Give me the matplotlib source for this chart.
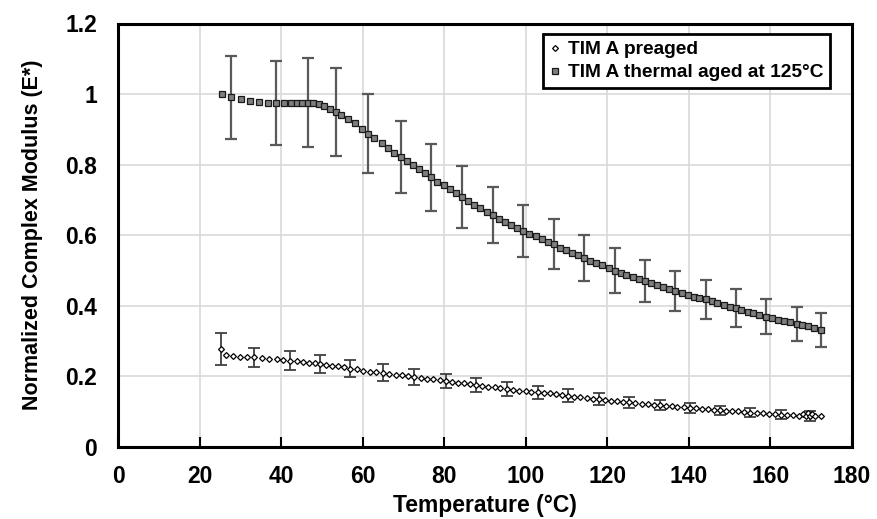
import matplotlib
matplotlib.use("Agg")
import matplotlib.pyplot as plt
from matplotlib.lines import Line2D

# ---------------- data ----------------
T_aged = [25.6, 27.7, 30.1, 32.4, 34.7, 36.9, 38.7, 40.6, 42.4, 43.8,
          45.2, 46.7, 47.9, 49.3, 50.5, 52.0, 53.4, 54.8, 56.5, 58.1,
          59.8, 61.4, 62.9, 64.7, 66.2, 67.8, 69.3, 70.8, 72.3, 73.8,
          75.3, 76.8, 78.3, 79.9, 81.3, 82.9, 84.4, 85.8, 87.4, 88.8,
          90.4, 91.9, 93.4, 94.9, 96.4, 97.8, 99.4, 100.9, 102.4, 103.9,
          105.4, 106.9, 108.4, 109.9, 111.3, 112.9, 114.3, 115.8, 117.3, 118.8,
          120.3, 121.9, 123.3, 124.7, 126.3, 127.8, 129.2, 130.7, 132.2, 133.7,
          135.2, 136.7, 138.2, 139.7, 141.2, 142.6, 144.1, 145.6, 147.0, 148.5,
          150.0, 151.5, 152.9, 154.4, 155.8, 157.3, 159.0, 160.4, 161.9, 163.4,
          164.8, 166.4, 167.8, 169.3, 170.7, 172.3]
E_aged = [1.000, 0.991, 0.986, 0.981, 0.978, 0.975, 0.975, 0.975, 0.975, 0.976,
          0.976, 0.976, 0.976, 0.972, 0.967, 0.959, 0.950, 0.941, 0.929, 0.917,
          0.902, 0.887, 0.875, 0.861, 0.846, 0.834, 0.822, 0.810, 0.798, 0.787,
          0.776, 0.764, 0.752, 0.742, 0.730, 0.719, 0.708, 0.697, 0.686, 0.676,
          0.667, 0.657, 0.646, 0.638, 0.629, 0.621, 0.612, 0.604, 0.597, 0.588,
          0.582, 0.574, 0.565, 0.558, 0.551, 0.543, 0.536, 0.528, 0.522, 0.515,
          0.507, 0.500, 0.493, 0.487, 0.482, 0.476, 0.470, 0.465, 0.458, 0.453,
          0.447, 0.442, 0.436, 0.432, 0.426, 0.421, 0.418, 0.413, 0.407, 0.402,
          0.397, 0.393, 0.388, 0.383, 0.379, 0.374, 0.369, 0.365, 0.361, 0.357,
          0.353, 0.349, 0.346, 0.342, 0.336, 0.332]
aged_err_idx = [1, 6, 11, 16, 21, 26, 31, 36, 41, 46, 51, 56, 61, 66, 71, 76, 81, 86, 91, 95]
aged_err = [0.118, 0.120, 0.127, 0.125, 0.112, 0.101, 0.095, 0.087, 0.080, 0.075,
            0.071, 0.066, 0.064, 0.059, 0.057, 0.055, 0.054, 0.050, 0.048, 0.048]

T_pre = [25.2, 26.6, 28.3, 29.9, 31.6, 33.4, 35.3, 37.1, 38.9, 40.5,
         42.2, 43.8, 45.3, 46.8, 48.2, 49.6, 51.0, 52.5, 53.9, 55.5,
         57.0, 58.5, 60.2, 61.8, 63.3, 64.9, 66.5, 68.1, 69.6, 71.2,
         72.7, 74.2, 75.8, 77.3, 78.9, 80.4, 81.8, 83.3, 84.8, 86.4,
         87.9, 89.3, 90.8, 92.4, 93.8, 95.3, 96.9, 98.4, 100.0, 101.4,
         102.9, 104.4, 105.9, 107.4, 109.0, 110.4, 111.9, 113.4, 114.9, 116.4,
         117.9, 119.4, 120.9, 122.4, 123.9, 125.4, 126.9, 128.4, 129.9, 131.4,
         132.8, 134.3, 135.8, 137.2, 138.7, 140.2, 141.7, 143.2, 144.7, 146.2,
         147.6, 149.1, 150.6, 152.1, 153.6, 155.1, 156.6, 158.1, 159.6, 161.0,
         162.5, 164.0, 165.5, 167.0, 168.0, 168.6, 169.2, 169.7, 170.3, 170.9,
         172.4]
E_pre = [0.278, 0.262, 0.258, 0.256, 0.255, 0.254, 0.252, 0.250, 0.248, 0.247,
         0.245, 0.243, 0.241, 0.239, 0.237, 0.235, 0.233, 0.230, 0.229, 0.226,
         0.222, 0.220, 0.216, 0.213, 0.212, 0.210, 0.207, 0.205, 0.203, 0.201,
         0.198, 0.196, 0.194, 0.192, 0.190, 0.187, 0.184, 0.182, 0.180, 0.178,
         0.175, 0.173, 0.171, 0.169, 0.167, 0.164, 0.162, 0.160, 0.159, 0.157,
         0.155, 0.153, 0.152, 0.150, 0.148, 0.145, 0.143, 0.141, 0.139, 0.137,
         0.135, 0.133, 0.131, 0.129, 0.128, 0.127, 0.125, 0.123, 0.121, 0.120,
         0.118, 0.117, 0.115, 0.114, 0.113, 0.111, 0.110, 0.109, 0.107, 0.106,
         0.104, 0.103, 0.102, 0.101, 0.099, 0.097, 0.096, 0.095, 0.094, 0.094,
         0.092, 0.091, 0.090, 0.089, 0.093, 0.088, 0.095, 0.088, 0.094, 0.089,
         0.087]
pre_err_idx = [0, 5, 10, 15, 20, 25, 30, 35, 40, 45, 50, 55, 60, 65, 70, 75, 80, 85, 90, 97]
pre_err = [0.046, 0.026, 0.027, 0.025, 0.024, 0.024, 0.022, 0.021, 0.020, 0.019,
           0.019, 0.018, 0.017, 0.016, 0.014, 0.0145, 0.0135, 0.0125, 0.0125, 0.013]

x_ticks = [0, 20, 40, 60, 80, 100, 120, 140, 160, 180]
y_ticks = [0, 0.2, 0.4, 0.6, 0.8, 1.0, 1.2]
y_tick_labels = ["0", "0.2", "0.4", "0.6", "0.8", "1", "1.2"]
label_pre = "TIM A preaged"
label_aged = "TIM A thermal aged at 125°C"

# ---------------- figure ----------------
plt.rcParams['font.family'] = ['Liberation Sans', 'DejaVu Sans']
plt.rcParams['font.weight'] = 'bold'

fig = plt.figure(figsize=(8.77, 5.19), dpi=100)
ax = fig.add_axes([118/877, 1 - 447/519, 734/877, 423.5/519])

ax.set_xlim(0, 180)
ax.set_ylim(0, 1.2)
ax.set_xticks(x_ticks)
ax.set_yticks(y_ticks)
ax.set_yticklabels(y_tick_labels)
ax.grid(True, color='#d9d9d9', linewidth=1.2, zorder=0)
ax.set_axisbelow(True)

errc = '#595959'
# error bars
ax.errorbar([T_aged[i] for i in aged_err_idx], [E_aged[i] for i in aged_err_idx],
            yerr=aged_err, fmt='none', ecolor=errc, elinewidth=1.6,
            capsize=4.5, capthick=1.6, zorder=2)
ax.errorbar([T_pre[i] for i in pre_err_idx], [E_pre[i] for i in pre_err_idx],
            yerr=pre_err, fmt='none', ecolor='#404040', elinewidth=1.3,
            capsize=4, capthick=1.3, zorder=2)

# markers
ax.plot(T_aged, E_aged, linestyle='none', marker='s', markersize=4.3,
        markerfacecolor='#7f7f7f', markeredgecolor='#1a1a1a',
        markeredgewidth=0.9, zorder=3)
ax.plot(T_pre, E_pre, linestyle='none', marker='D', markersize=3.0,
        markerfacecolor='white', markeredgecolor='black',
        markeredgewidth=0.9, zorder=3)

for sp in ax.spines.values():
    sp.set_linewidth(2.2)
    sp.set_color('black')

ax.tick_params(axis='x', direction='in', length=7, width=1.5,
               labelsize=16.5, pad=13, top=False)
ax.tick_params(axis='y', direction='in', length=0, labelsize=16.5, pad=15)

ax.set_xlabel("Temperature (°C)", fontsize=16.5, fontweight='bold', labelpad=4)
ax.set_ylabel("Normalized Complex Modulus (E*)", fontsize=15.5, fontweight='bold')
ax.yaxis.set_label_coords(-0.102, 0.5)

handles = [
    Line2D([], [], linestyle='none', marker='D', markersize=3.0,
           markerfacecolor='white', markeredgecolor='black', markeredgewidth=0.9),
    Line2D([], [], linestyle='none', marker='s', markersize=4.3,
           markerfacecolor='#7f7f7f', markeredgecolor='#1a1a1a', markeredgewidth=0.9),
]
leg = ax.legend(handles, [label_pre, label_aged], loc='upper right',
                bbox_to_anchor=(0.970, 0.975), frameon=True, fancybox=False,
                prop={'size': 13.8, 'weight': 'bold'}, handlelength=0.6,
                handletextpad=0.35, borderpad=0.35, labelspacing=0.3,
                borderaxespad=0)
leg.get_frame().set_edgecolor('black')
leg.get_frame().set_linewidth(2.0)
leg.get_frame().set_alpha(1)

fig.savefig("out.png", dpi=100)
